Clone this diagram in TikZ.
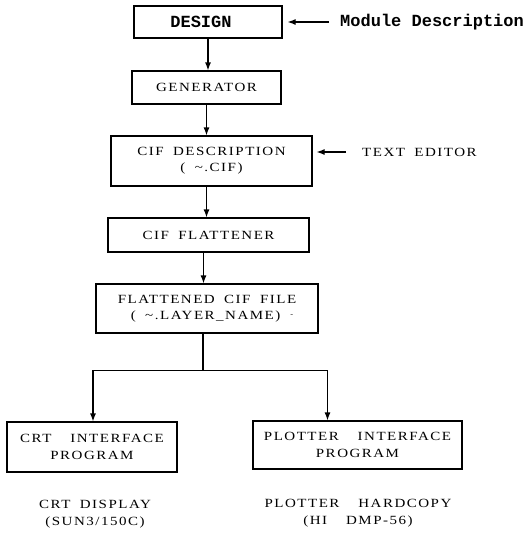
\documentclass[tikz,border=0pt]{standalone}
\usepackage{fontspec}
\setmainfont{Liberation Serif}[FakeStretch=1.2,LetterSpace=12,WordSpace=1.8]
\newfontfamily\dotfont{Liberation Mono}
\usetikzlibrary{arrows.meta}

\begin{document}
\begin{tikzpicture}[x=1pt,y=-1pt,
  blok/.style = {draw, line width=1.2pt, inner sep=0pt, align=center, font=\fontsize{12.5}{16}\selectfont},
  flow/.style = {line width=1.2pt, -{Latex[length=8pt,width=6pt]}},
  note/.style = {align=center, inner sep=0pt, font=\fontsize{12.5}{17}\selectfont},
  dotted text/.style = {inner sep=0pt, font=\dotfont\bfseries\fontsize{17}{17}\selectfont}
  ]
\useasboundingbox (0,0) rectangle (528,533);
\node[blok, dotted text, draw, minimum width=148pt, minimum height=32pt] (design) at (208,22) {DESIGN\hspace{14pt}};
\node[blok, minimum width=149pt, minimum height=33pt] (gen) at (206.5,87.5) {GENERATOR};
\node[blok, minimum width=201pt, minimum height=50pt] (cifdesc) at (211.5,161) {CIF DESCRIPTION\\( \textasciitilde.CIF)};
\node[blok, minimum width=201pt, minimum height=34pt] (flatten) at (208.5,235) {CIF FLATTENER};
\node[blok, minimum width=222pt, minimum height=49pt] (flatfile) at (207,308.5) {FLATTENED CIF FILE\\\hspace{10pt}( \textasciitilde.LAYER\_NAME)\hspace{10pt}\raisebox{3pt}{\scriptsize -}};
\node[blok, minimum width=170pt, minimum height=50pt, font=\fontsize{12.5}{17}\selectfont] (crt) at (92,447) {CRT \ INTERFACE\\PROGRAM};
\node[blok, minimum width=209pt, minimum height=48pt, font=\fontsize{12.5}{17}\selectfont] (plotter) at (357.5,445) {PLOTTER \ INTERFACE\\PROGRAM};

\node[dotted text, anchor=west] (modtxt) at (340,22) {Module Description};
\node[note, anchor=west] (editor) at (362,152) {TEXT EDITOR};
\node[note] (crtdisp) at (95,514) {CRT DISPLAY\\(SUN3/150C)};
\node[note] (plotcopy) at (358,513) {PLOTTER \ HARDCOPY\\(HI \ DMP-56)};

\draw[flow, shorten <=11pt, shorten >=5pt] (modtxt.west) -- (design.east);
\draw[flow, shorten <=16pt, shorten >=4pt] (editor.west) -- (editor.west -| cifdesc.east);

\draw[flow] (design.south) -- (design.south |- gen.north);
\draw[flow] (gen.south) -- (gen.south |- cifdesc.north);
\draw[flow] (gen.south |- cifdesc.south) -- (gen.south |- flatten.north);
\draw[flow] ([xshift=-5pt]flatten.south) -- ([xshift=-5pt]flatten.south |- flatfile.north);
\draw[line width=1.2pt] ([xshift=-4pt]flatfile.south) -- ++(0,37) coordinate (split);
\draw[flow] (split) -| ([xshift=1pt]crt.north);
\draw[flow] (split) -| ([xshift=-30pt]plotter.north);
\end{tikzpicture}
\end{document}
